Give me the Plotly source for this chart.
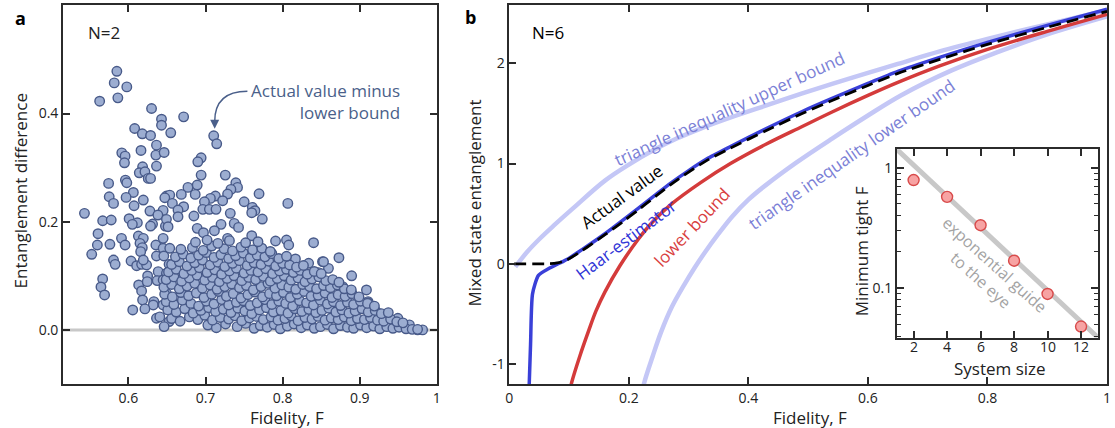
import plotly.graph_objects as go

# ---------------- Panel a data (N=2 scatter) ----------------
sparse_x = [0.5850, 0.5816, 0.5979, 0.5863, 0.5627, 0.6300, 0.6429, 0.6429, 0.6549, 0.6081,
            0.6180, 0.6287, 0.6364, 0.6163, 0.5914, 0.5957, 0.5949, 0.6356, 0.6463, 0.6364,
            0.6184, 0.6141, 0.6214, 0.6257, 0.6287, 0.5961, 0.5979, 0.5743, 0.6064, 0.5970,
            0.5751, 0.5807, 0.6193, 0.6073, 0.6493, 0.6536, 0.6472, 0.6279, 0.6450, 0.5430,
            0.6382, 0.5666, 0.5777, 0.6009, 0.6116, 0.6051, 0.6313, 0.6287, 0.6480, 0.6493,
            0.5606, 0.5910, 0.5957, 0.5760, 0.5597, 0.5524, 0.6129, 0.6193, 0.6150, 0.6180,
            0.6159, 0.6356, 0.6450, 0.6450, 0.6536, 0.5807, 0.5828, 0.6034, 0.6107, 0.6171,
            0.6236, 0.6193, 0.6364, 0.6459, 0.6386, 0.6527, 0.6493, 0.6249, 0.6133, 0.6244,
            0.6373, 0.6450, 0.6171, 0.5666, 0.5644, 0.5691, 0.6493, 0.6184, 0.6330, 0.6322,
            0.6450, 0.6056, 0.6214, 0.6557, 0.6364, 0.6407, 0.6527, 0.6463,
            0.6716, 0.7106, 0.7145, 0.6943, 0.6900, 0.6943, 0.7256, 0.7393, 0.7415, 0.7329,
            0.7286, 0.6772, 0.6892, 0.6866, 0.6686, 0.7694, 0.7501, 0.7128, 0.7063, 0.7222,
            0.6986, 0.6570, 0.6716, 0.6643, 0.6965, 0.7050, 0.7136, 0.7607, 0.7641, 0.7599,
            0.7736, 0.7321, 0.6849, 0.7372, 0.7428, 0.7201, 0.6514, 0.6643, 0.7599, 0.6892,
            0.7115, 0.7286, 0.6973,
            0.8067, 0.8401, 0.8050, 0.8079, 0.7908, 0.8730, 0.8895, 0.9087, 0.8517, 0.8337,
            0.8166, 0.8594, 0.8465, 0.8778, 0.9001, 0.9108, 0.9494, 0.9644, 0.9751, 0.9815,
            0.9322, 0.9237, 0.9172, 0.8530, 0.9110]
sparse_y = [0.478, 0.4566, 0.4492, 0.4289, 0.4227, 0.4092, 0.3895, 0.3784, 0.3643, 0.3723,
            0.3625, 0.3594, 0.3415, 0.3317, 0.3273, 0.3212, 0.3089, 0.3231, 0.3280, 0.3028,
            0.3015, 0.2904, 0.2923, 0.2800, 0.2800, 0.2769, 0.2720, 0.2708, 0.2541, 0.2449,
            0.2461, 0.2338, 0.2400, 0.2295, 0.2474, 0.2492, 0.2443, 0.2197, 0.2209, 0.2154,
            0.2123, 0.2018, 0.2031, 0.2055, 0.1981, 0.1951, 0.1957, 0.1920, 0.1920, 0.2043,
            0.1778, 0.1692, 0.1569, 0.1582, 0.1569, 0.1397, 0.1735, 0.1692, 0.1600, 0.1520,
            0.1446, 0.1569, 0.1692, 0.1508, 0.1508, 0.1292, 0.1212, 0.1274, 0.1187, 0.1212,
            0.1200, 0.1292, 0.1366, 0.1366, 0.1077, 0.1212, 0.1046, 0.0997, 0.0831, 0.0892,
            0.0911, 0.0923, 0.0720, 0.0942, 0.0794, 0.0646, 0.0677, 0.0554, 0.0523, 0.0461,
            0.0461, 0.0369, 0.0388, 0.0492, 0.0215, 0.0240, 0.0154, 0.0061,
            0.3938, 0.3588, 0.3440, 0.3181, 0.3107, 0.2861, 0.2861, 0.2720, 0.2634, 0.2597,
            0.2511, 0.2634, 0.2677, 0.2505, 0.2505, 0.2517, 0.2369, 0.2474, 0.2431, 0.2388,
            0.2369, 0.2338, 0.2277, 0.2215, 0.2228, 0.2228, 0.2228, 0.2265, 0.2203, 0.2166,
            0.2049, 0.2154, 0.2105, 0.1969, 0.1895, 0.1951, 0.1908, 0.2092, 0.1741, 0.1877,
            0.1834, 0.1692, 0.1797,
            0.2338, 0.1612, 0.1662, 0.1569, 0.1643, 0.1335, 0.1000, 0.0738, 0.1261, 0.1231,
            0.1311, 0.1138, 0.1058, 0.0800, 0.0492, 0.0523, 0.0215, 0.0092, 0.0000, 0.0000,
            0.0246, 0.0308, 0.0338, 0.1260, 0.0500]

# dense cloud, read band by band
dense_x = [
    0.703, 0.714, 0.726, 0.741, 0.752, 0.763, 0.771, 0.780, 0.789, 0.797, 0.806, 0.815, 0.824, 0.832,
    0.841, 0.849, 0.858, 0.866, 0.875, 0.884, 0.892, 0.901, 0.909, 0.918, 0.926, 0.935, 0.943, 0.951,
    0.960, 0.968, 0.975,
    0.656, 0.667, 0.679, 0.690, 0.699, 0.709, 0.719, 0.730, 0.738, 0.747, 0.757, 0.766, 0.775, 0.785,
    0.794, 0.803, 0.811, 0.820, 0.829, 0.838, 0.846, 0.855, 0.863, 0.872, 0.880, 0.889, 0.897, 0.906,
    0.914, 0.923, 0.931, 0.940, 0.948, 0.956,
    0.651, 0.662, 0.673, 0.684, 0.694, 0.704, 0.713, 0.723, 0.733, 0.742, 0.751, 0.760, 0.770, 0.779,
    0.788, 0.798, 0.807, 0.816, 0.825, 0.834, 0.843, 0.851, 0.860, 0.869, 0.877, 0.886, 0.894, 0.903,
    0.911, 0.920, 0.928, 0.937,
    0.649, 0.659, 0.670, 0.681, 0.691, 0.701, 0.711, 0.721, 0.730, 0.740, 0.749, 0.758, 0.767, 0.777,
    0.786, 0.795, 0.804, 0.813, 0.822, 0.831, 0.840, 0.849, 0.858, 0.866, 0.875, 0.884, 0.892, 0.901,
    0.910, 0.919,
    0.647, 0.657, 0.668, 0.678, 0.688, 0.698, 0.708, 0.717, 0.727, 0.736, 0.746, 0.755, 0.764, 0.774,
    0.783, 0.792, 0.801, 0.810, 0.819, 0.828, 0.837, 0.846, 0.855, 0.864, 0.872, 0.881, 0.890, 0.899,
    0.646, 0.656, 0.666, 0.676, 0.686, 0.696, 0.706, 0.715, 0.725, 0.734, 0.744, 0.753, 0.762, 0.772,
    0.781, 0.790, 0.799, 0.808, 0.817, 0.826, 0.835, 0.844, 0.853, 0.862, 0.871, 0.880, 0.889,
    0.649, 0.659, 0.669, 0.679, 0.689, 0.699, 0.709, 0.718, 0.728, 0.737, 0.747, 0.756, 0.765, 0.775,
    0.784, 0.793, 0.802, 0.811, 0.820, 0.829, 0.838, 0.847, 0.856, 0.865, 0.873,
    0.652, 0.662, 0.672, 0.682, 0.692, 0.702, 0.712, 0.721, 0.731, 0.740, 0.750, 0.759, 0.768, 0.778,
    0.787, 0.796, 0.805, 0.814, 0.823, 0.832, 0.841, 0.850,
    0.656, 0.666, 0.676, 0.686, 0.696, 0.706, 0.716, 0.725, 0.735, 0.744, 0.754, 0.763, 0.772, 0.782,
    0.791, 0.800, 0.809, 0.818, 0.827,
    0.661, 0.671, 0.681, 0.691, 0.701, 0.711, 0.720, 0.730, 0.739, 0.749, 0.758, 0.767, 0.777, 0.786,
    0.795, 0.805,
    0.668, 0.683, 0.697, 0.708, 0.724, 0.735, 0.746, 0.761, 0.773, 0.784,
    0.687, 0.702, 0.716, 0.731, 0.752, 0.768]
dense_y = [
    0.009, 0.004, 0.011, 0.006, 0.012, 0.003, 0.008, 0.005, 0.010, 0.002, 0.007, 0.011, 0.004, 0.009,
    0.003, 0.006, 0.010, 0.002, 0.008, 0.005, 0.003, 0.009, 0.004, 0.007, 0.002, 0.006, 0.003, 0.005,
    0.002, 0.001, 0.001,
    0.021, 0.016, 0.024, 0.019, 0.027, 0.018, 0.023, 0.020, 0.026, 0.017, 0.022, 0.025, 0.019, 0.024,
    0.018, 0.021, 0.026, 0.017, 0.023, 0.020, 0.025, 0.018, 0.022, 0.019, 0.024, 0.017, 0.021, 0.019,
    0.023, 0.018, 0.016, 0.020, 0.015, 0.013,
    0.037, 0.033, 0.039, 0.031, 0.036, 0.041, 0.034, 0.038, 0.032, 0.040, 0.035, 0.030, 0.037, 0.041,
    0.033, 0.036, 0.031, 0.039, 0.034, 0.038, 0.032, 0.036, 0.040, 0.033, 0.037, 0.031, 0.035, 0.039,
    0.033, 0.036, 0.030, 0.032,
    0.052, 0.047, 0.055, 0.049, 0.044, 0.053, 0.048, 0.056, 0.046, 0.051, 0.054, 0.045, 0.050, 0.056,
    0.047, 0.053, 0.049, 0.044, 0.054, 0.050, 0.046, 0.055, 0.048, 0.052, 0.045, 0.051, 0.047, 0.053,
    0.049, 0.044,
    0.066, 0.061, 0.069, 0.063, 0.068, 0.060, 0.066, 0.071, 0.062, 0.067, 0.059, 0.065, 0.070, 0.061,
    0.067, 0.063, 0.069, 0.060, 0.066, 0.071, 0.062, 0.064, 0.068, 0.060, 0.065, 0.062, 0.067, 0.061,
    0.079, 0.084, 0.076, 0.081, 0.086, 0.077, 0.083, 0.075, 0.080, 0.085, 0.078, 0.082, 0.074, 0.080,
    0.086, 0.077, 0.083, 0.079, 0.075, 0.084, 0.080, 0.076, 0.082, 0.078, 0.083, 0.076, 0.074,
    0.093, 0.098, 0.090, 0.096, 0.101, 0.092, 0.097, 0.089, 0.095, 0.100, 0.091, 0.097, 0.093, 0.099,
    0.090, 0.095, 0.100, 0.092, 0.096, 0.089, 0.094, 0.098, 0.091, 0.093, 0.088,
    0.107, 0.112, 0.104, 0.110, 0.115, 0.106, 0.111, 0.103, 0.109, 0.114, 0.105, 0.110, 0.107, 0.113,
    0.104, 0.109, 0.112, 0.106, 0.110, 0.103, 0.108, 0.104,
    0.121, 0.126, 0.118, 0.124, 0.129, 0.120, 0.125, 0.117, 0.123, 0.128, 0.119, 0.124, 0.121, 0.127,
    0.118, 0.123, 0.120, 0.116, 0.119,
    0.135, 0.140, 0.133, 0.138, 0.143, 0.134, 0.139, 0.132, 0.137, 0.142, 0.133, 0.138, 0.135, 0.141,
    0.132, 0.136,
    0.149, 0.152, 0.147, 0.155, 0.150, 0.146, 0.153, 0.148, 0.151, 0.145,
    0.162, 0.166, 0.160, 0.165, 0.161, 0.163]

# ---------------- Panel b data (N=6 curves) ----------------
upper_F = [0.01, 0.03, 0.05, 0.075, 0.105, 0.16, 0.20, 0.243, 0.28, 0.32, 0.38, 0.43, 0.49,
           0.54, 0.60, 0.65, 0.72, 0.80, 0.90, 1.00]
upper_E = [-0.03, 0.12, 0.245, 0.385, 0.545, 0.83, 0.99, 1.14, 1.25, 1.35, 1.48, 1.58, 1.70,
           1.795, 1.905, 1.995, 2.12, 2.245, 2.39, 2.53]

haar_F = [0.0330, 0.0355, 0.0388, 0.0487, 0.0653, 0.0875, 0.10, 0.115, 0.13, 0.16, 0.19, 0.215,
          0.245, 0.27, 0.30, 0.33, 0.37, 0.43, 0.49, 0.54, 0.60, 0.65, 0.72, 0.80, 0.90, 1.00]
haar_E = [-1.25, -0.80, -0.30, -0.116, -0.05, 0.017, 0.055, 0.115, 0.175, 0.30, 0.435, 0.55,
          0.69, 0.805, 0.93, 1.045, 1.17, 1.35, 1.52, 1.65, 1.80, 1.92, 2.06, 2.21, 2.38, 2.54]

actual_F = [0.008, 0.04, 0.065, 0.08, 0.095, 0.115, 0.13, 0.16, 0.19, 0.215, 0.245, 0.27, 0.30,
            0.33, 0.37, 0.43, 0.49, 0.54, 0.60, 0.65, 0.72, 0.80, 0.90, 1.00]
actual_E = [0.0, 0.0, 0.0, 0.008, 0.035, 0.105, 0.165, 0.29, 0.42, 0.535, 0.675, 0.79, 0.915,
            1.03, 1.155, 1.33, 1.50, 1.63, 1.78, 1.90, 2.04, 2.19, 2.36, 2.52]

lower_F = [0.100, 0.1045, 0.118, 0.132, 0.145, 0.16, 0.185, 0.215, 0.24, 0.27, 0.32, 0.37, 0.43,
           0.49, 0.54, 0.60, 0.65, 0.72, 0.80, 0.90, 1.00]
lower_E = [-1.30, -1.18, -0.92, -0.68, -0.47, -0.28, -0.02, 0.24, 0.42, 0.59, 0.81, 1.00, 1.195,
           1.37, 1.515, 1.68, 1.81, 1.975, 2.14, 2.32, 2.49]

tri_low_F = [0.222, 0.226, 0.24, 0.254, 0.272, 0.292, 0.31, 0.3256, 0.35, 0.3726, 0.40, 0.428,
             0.48, 0.54, 0.60, 0.655, 0.74, 0.8156, 0.90, 1.00]
tri_low_E = [-1.30, -1.18, -0.92, -0.68, -0.43, -0.216, -0.04, 0.10, 0.30, 0.47, 0.64, 0.78,
             1.01, 1.25, 1.48, 1.68, 1.93, 2.11, 2.29, 2.47]

# ---------------- Inset data ----------------
sys_size = [2, 4, 6, 8, 10, 12]
sys_labels = ["2", "4", "6", "8", "10", "12"]
min_tight_F = [0.79, 0.573, 0.333, 0.169, 0.0895, 0.048]
guide_x = [1, 13]
guide_y = [1.42, 0.039]

FONT = "Open Sans"
TXT = "#222222"
AX = "#2b2b2b"

fig = go.Figure()

fig.add_trace(go.Scatter(
    x=sparse_x + dense_x, y=sparse_y + dense_y, mode="markers",
    marker=dict(size=9.5, color="#9cadd1", line=dict(color="#485a89", width=1.4)),
    xaxis="x", yaxis="y", showlegend=False, hoverinfo="skip"))

lav = "#c4c7f6"
def curve(xs, ys, color, width, dash="solid", smoothing=1.0):
    fig.add_trace(go.Scatter(x=xs, y=ys, mode="lines",
                             line=dict(color=color, width=width, dash=dash, shape="spline", smoothing=smoothing),
                             xaxis="x2", yaxis="y2", showlegend=False, hoverinfo="skip"))

curve(upper_F, upper_E, lav, 4.5)
curve(tri_low_F, tri_low_E, lav, 4.5)
curve(lower_F, lower_E, "#d43b3b", 3.5)
curve(haar_F, haar_E, "#3a40d8", 3.5, smoothing=0.6)
curve(actual_F, actual_E, "black", 2.8, dash="12px,6px", smoothing=0.8)

fig.add_trace(go.Scatter(x=guide_x, y=guide_y, mode="lines", line=dict(color="#c8c8c8", width=5),
                         xaxis="x3", yaxis="y3", showlegend=False, hoverinfo="skip"))
fig.add_trace(go.Scatter(x=sys_size, y=min_tight_F, mode="markers",
                         marker=dict(size=11, color="#f7a3a3", line=dict(color="#d84a4a", width=1.4)),
                         xaxis="x3", yaxis="y3", showlegend=False, hoverinfo="skip"))

W, H = 1115, 428
def px(v): return v / W
def py(v): return 1 - v / H

tickfont = dict(family=FONT, size=14, color=TXT)
common = dict(showline=True, linecolor=AX, linewidth=1.5, ticks="inside", ticklen=7, tickwidth=1.5,
              tickcolor=AX, showgrid=False, zeroline=False, tickfont=tickfont)

fig.update_layout(
    width=W, height=H, margin=dict(l=0, r=0, t=0, b=0),
    paper_bgcolor="white", plot_bgcolor="white",
    font=dict(family=FONT, size=14, color=TXT),
    xaxis=dict(domain=[px(59.3), px(436)], range=[0.515, 1.0], mirror="ticks",
               tickvals=[0.6, 0.7, 0.8, 0.9, 1.0], ticktext=["0.6", "0.7", "0.8", "0.9", "1"], **common),
    yaxis=dict(domain=[py(384), py(5.3)], range=[-0.1, 0.6], mirror="ticks",
               tickvals=[0.0, 0.2, 0.4], ticktext=["0.0", "0.2", "0.4"], **common),
    xaxis2=dict(domain=[px(509), px(1111)], range=[0, 1], mirror="ticks", anchor="y2",
                tickvals=[0, 0.2, 0.4, 0.6, 0.8, 1.0], ticktext=["0", "0.2", "0.4", "0.6", "0.8", "1"], **common),
    yaxis2=dict(domain=[py(384), py(5.3)], range=[-1.2, 2.58], mirror=True, anchor="x2",
                tickvals=[-1, 0, 1, 2], ticktext=["-1", "0", "1", "2"], **common),
    xaxis3=dict(domain=[px(899.3), px(1101.7)], range=[1, 13], mirror="ticks", anchor="y3",
                tickvals=sys_size, showticklabels=False, **common),
    yaxis3=dict(domain=[py(337.5), py(149.3)], type="log", range=[-1.41, 0.153], mirror="ticks", anchor="x3",
                tickvals=[0.1, 1], ticktext=["0.1", "1"],
                minor=dict(ticks="inside", ticklen=4, tickwidth=1, tickcolor=AX,
                           tickvals=[0.04, 0.05, 0.06, 0.07, 0.08, 0.09, 0.2, 0.3, 0.4, 0.5, 0.6, 0.7, 0.8, 0.9]),
                **common),
)

fig.add_shape(type="line", xref="x", yref="y", x0=0.515, x1=1.0, y0=0, y1=0,
              line=dict(color="#c8c8c8", width=3), layer="below")
fig.add_shape(type="path", xref="x", yref="y",
              path="M 0.7543,0.441 Q 0.7119,0.441 0.7119,0.385",
              line=dict(color="#4a5f8a", width=1.5))

ann = []
def A(text, x, y, size=17, color=TXT, angle=0, xref="paper", yref="paper", xanchor="center", **kw):
    d = dict(text=text, x=x, y=y, xref=xref, yref=yref, showarrow=False, textangle=angle,
             xanchor=xanchor, yanchor="middle",
             font=dict(family=FONT, size=size, color=color))
    d.update(kw)
    ann.append(d)

A("<b>a</b>", px(17), py(18), size=18, color="black")
A("<b>b</b>", px(470), py(17), size=18, color="black")
A("N=2", px(101), py(32))
A("Actual value minus<br>lower bound", px(401), py(102), color="#4a5f8a", xanchor="right", align="right")
A("Fidelity, F", px(285), py(417))
A("Entanglement difference", px(16.5), py(191), angle=-90)
A("Fidelity, F", px(812), py(417))
A("Mixed state entanglement", px(473), py(203), angle=-90)
A("System size", px(1003), py(368))
A("Minimum tight F", px(863.5), py(251), angle=-90)
for v, t in zip(sys_size, sys_labels):
    A(t, v, py(346), size=14, xref="x3")
A("N=6", 0.065, 2.31, xref="x2", yref="y2", color="black")
A("triangle inequality upper bound", 0.369, 1.55, xref="x2", yref="y2", color="#7b80d6", angle=-24.5)
A("triangle inequality lower bound", 0.572, 1.09, xref="x2", yref="y2", color="#7b80d6", angle=-35)
A("lower bound", 0.305, 0.36, xref="x2", yref="y2", color="#d9413f", angle=-46.5)
A("Actual value", 0.188, 0.67, xref="x2", yref="y2", color="black", angle=-36)
A("Haar-estimator", 0.195, 0.24, xref="x2", yref="y2", color="#3035d6", angle=-37)
A("exponential guide<br>to the eye", px(990.8), py(272.5), size=16, color="#a3a3a3", angle=42)
ann.append(dict(x=0.7119, y=0.372, xref="x", yref="y", ax=0, ay=-10, text="", showarrow=True,
                arrowhead=2, arrowsize=1.2, arrowwidth=1.5, arrowcolor="#4a5f8a"))
fig.update_layout(annotations=ann)

fig.write_html("out.html")
